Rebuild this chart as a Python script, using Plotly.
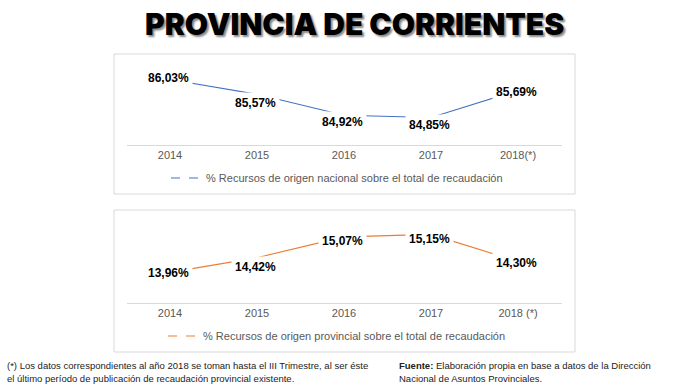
import plotly.graph_objects as go

W, H = 674, 389

years_top = ["2014", "2015", "2016", "2017", "2018(*)"]
years_bot = ["2014", "2015", "2016", "2017", "2018 (*)"]
nacional = [86.03, 85.57, 84.92, 84.85, 85.69]
provincial = [13.96, 14.42, 15.07, 15.15, 14.30]
label_shift_top = [1, -9, -7, -7, -2]
label_shift_bot = [-1, -9, -4, -5, -1]

name_top = "% Recursos de origen nacional sobre el total de recaudación"
name_bot = "% Recursos de origen provincial sobre el total de recaudación"

note_lines = ["(*) Los datos correspondientes al año 2018 se toman hasta el III Trimestre, al ser éste",
              "el último período de publicación de recaudación provincial existente."]
source_lines = ["<b>Fuente:</b> Elaboración propia en base a datos de la Dirección",
                "Nacional de Asuntos Provinciales."]

BLUE = "#4472C4"
ORANGE = "#ED7D31"
GRAY = "#595959"

def px_x(p):
    return p / W

def px_y(p):
    return 1 - p / H

fig = go.Figure()

fig.add_trace(go.Scatter(x=years_top, y=nacional, mode="lines",
                         line=dict(color=BLUE, width=1.1), showlegend=False,
                         xaxis="x", yaxis="y", hoverinfo="skip"))
fig.add_trace(go.Scatter(x=[None], y=[None], mode="lines", name=name_top,
                         line=dict(color=BLUE, width=1.1, dash="dash"),
                         xaxis="x", yaxis="y", legend="legend"))
fig.add_trace(go.Scatter(x=years_bot, y=provincial, mode="lines",
                         line=dict(color=ORANGE, width=1.1), showlegend=False,
                         xaxis="x2", yaxis="y2", hoverinfo="skip"))
fig.add_trace(go.Scatter(x=[None], y=[None], mode="lines", name=name_bot,
                         line=dict(color=ORANGE, width=1.1, dash="dash"),
                         xaxis="x2", yaxis="y2", legend="legend2"))

def fmt(v):
    return f"{v:.2f}".replace(".", ",") + "%"

annotations = []
for xa, ya, cats, vals, shifts in [("x", "y", years_top, nacional, label_shift_top),
                                    ("x2", "y2", years_bot, provincial, label_shift_bot)]:
    for i, (v, s) in enumerate(zip(vals, shifts)):
        annotations.append(dict(x=i, y=v, xref=xa, yref=ya, text=fmt(v),
                                showarrow=False, yshift=s, xshift=-2,
                                bgcolor="white", borderpad=3,
                                font=dict(family="Liberation Sans, Arial", size=12,
                                          color="black", weight="bold")))

annotations.append(dict(x=px_x(354), y=px_y(24), xref="paper", yref="paper",
                        text="PROVINCIA DE CORRIENTES", showarrow=False,
                        xanchor="center", yanchor="middle",
                        font=dict(family="Inter", size=30, color="black", weight=900,
                                  shadow="2px 2px 2px #888888")))

foot_font = dict(family="Liberation Sans, Arial", size=9.5, color="#222222")
for k, line in enumerate(note_lines):
    annotations.append(dict(x=px_x(5), y=px_y(365 + 13 * k), xref="paper", yref="paper",
                            xanchor="left", yanchor="middle", align="left", showarrow=False,
                            text=line, font=foot_font))
for k, line in enumerate(source_lines):
    annotations.append(dict(x=px_x(397), y=px_y(365 + 13 * k), xref="paper", yref="paper",
                            xanchor="left", yanchor="middle", align="left", showarrow=False,
                            text=line, font=foot_font))

shapes = [
    dict(type="rect", xref="paper", yref="paper", x0=px_x(114), x1=px_x(575),
         y0=px_y(194), y1=px_y(54), line=dict(color="#D9D9D9", width=1)),
    dict(type="rect", xref="paper", yref="paper", x0=px_x(114), x1=px_x(575),
         y0=px_y(352), y1=px_y(210), line=dict(color="#D9D9D9", width=1)),
]

axis_font = dict(family="Liberation Sans, Arial", size=11, color=GRAY)
xcommon = dict(type="category", showgrid=False, zeroline=False, showline=True,
               linecolor="#D9D9D9", linewidth=1, ticks="", tickfont=axis_font,
               fixedrange=True, range=[-0.5, 4.5])
ycommon = dict(showgrid=False, zeroline=False, showline=False, showticklabels=False,
               ticks="", fixedrange=True)

fig.update_layout(
    width=W, height=H, margin=dict(l=0, r=0, t=0, b=0),
    paper_bgcolor="white", plot_bgcolor="rgba(0,0,0,0)",
    xaxis=dict(**xcommon, domain=[px_x(126.5), px_x(561.5)], anchor="y"),
    yaxis=dict(**ycommon, domain=[px_y(145), px_y(61)], range=[84.0, 86.6], anchor="x"),
    xaxis2=dict(**xcommon, domain=[px_x(126.5), px_x(561.5)], anchor="y2"),
    yaxis2=dict(**ycommon, domain=[px_y(303), px_y(220)], range=[13.0, 15.6], anchor="x2"),
    legend=dict(x=0.5, y=px_y(178), xanchor="center", yanchor="middle",
                orientation="h", font=axis_font, itemwidth=30, bgcolor="rgba(0,0,0,0)"),
    legend2=dict(x=0.5, y=px_y(336), xanchor="center", yanchor="middle",
                 orientation="h", font=axis_font, itemwidth=30, bgcolor="rgba(0,0,0,0)"),
    annotations=annotations, shapes=shapes, hovermode=False,
)

fig.write_html("out.html", config={"displayModeBar": False},
               post_script="document.body.style.margin='0';document.body.style.overflow='hidden';")
